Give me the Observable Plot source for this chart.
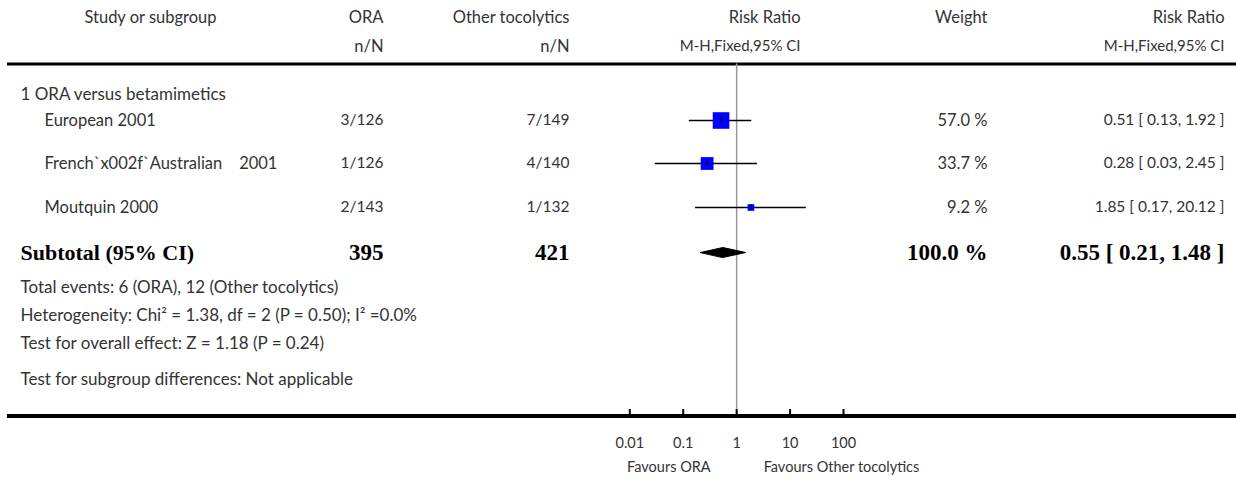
<!DOCTYPE html>
<html><head><meta charset="utf-8">
<script src="https://cdn.jsdelivr.net/npm/d3@7"></script>
<script src="https://cdn.jsdelivr.net/npm/@observablehq/plot@0.6"></script>
<style>body{margin:0;background:#fff}</style>
</head><body><div id="chart"></div>
<script>
// ---- data ----
const studies = ["European 2001", "French`x002f`Australian\u00a0\u00a0\u00a0 2001", "Moutquin 2000"];
const oraEvents = [3, 1, 2];
const oraTotal = [126, 126, 143];
const otherEvents = [7, 4, 1];
const otherTotal = [149, 140, 132];
const riskRatio = [0.51, 0.28, 1.85];
const ciLow = [0.13, 0.03, 0.17];
const ciHigh = [1.92, 2.45, 20.12];
const weights = [57.0, 33.7, 9.2];
const subtotalN = [395, 421];
const subtotalRR = [0.55, 0.21, 1.48];
const subtotalWeight = 100.0;
const groupLabel = "1 ORA versus betamimetics";
const notes = [
  "Total events: 6 (ORA), 12 (Other tocolytics)",
  "Heterogeneity: Chi\u00b2 = 1.38, df = 2 (P = 0.50); I\u00b2 =0.0%",
  "Test for overall effect: Z = 1.18 (P = 0.24)",
  "Test for subgroup differences: Not applicable"
];
const tickValues = [0.01, 0.1, 1, 10, 100];
const tickLabels = ["0.01", "0.1", "1", "10", "100"];
const favours = ["Favours ORA", "Favours Other tocolytics"];

// ---- layout (row slots, column anchors, type sizes) ----
const rowY = {head1: 17, head2: 46, headLine: 63.5, group: 94, studies: [120, 163, 207],
  subtotal: 252, notes: [287, 315, 343, 379], axis: 415.5, tickTop: 409, tickLabel: 443, favours: 467};
const col = {study: 44, group: 20, studyHead: 150, ora: 383, other: 569, rrHead: 800, weight: 987, rrCI: 1224};
const fs = {head: 16.5, headSmall: 15, name: 16.5, note: 17, count: 15.5, weight: 16.5, ci: 15.5, axis: 14.5, bold: 23, boldLabel: 22};

const fmt2 = d3.format(".2f");
const rows = studies.map((s, i) => ({
  study: s,
  ora: `${oraEvents[i]}/${oraTotal[i]}`,
  other: `${otherEvents[i]}/${otherTotal[i]}`,
  rr: riskRatio[i], lo: ciLow[i], hi: ciHigh[i], w: weights[i],
  wText: `${weights[i].toFixed(1)} %`,
  ciText: `${fmt2(riskRatio[i])} [ ${fmt2(ciLow[i])}, ${fmt2(ciHigh[i])} ]`,
  y: rowY.studies[i]
}));
const sub = {rr: subtotalRR[0], lo: subtotalRR[1], hi: subtotalRR[2], y: rowY.subtotal};
const diamond = [
  {x: sub.lo, y: sub.y}, {x: sub.rr, y: sub.y - 5}, {x: sub.hi, y: sub.y}, {x: sub.rr, y: sub.y + 5}
];
const ticks = tickValues.map((v, i) => ({v, label: tickLabels[i]}));

const txt = "#333";
const base = {fill: txt};
const bold = {fontFamily: "'Liberation Serif', 'Times New Roman', serif", fontWeight: "bold", fontSize: fs.bold, fill: "#000", frameAnchor: "left", textAnchor: "end", y: () => sub.y, text: d => String(d)};
const hdr = (labels, dx, sizes) => Plot.text(labels, {...base, text: d => d, y: (d, i) => i ? rowY.head2 : rowY.head1,
  frameAnchor: "left", dx, textAnchor: "end", fontSize: (d, i) => sizes[i]});

const chart = Plot.plot({
  width: 1236, height: 486,
  marginTop: 0, marginRight: 0, marginBottom: 0, marginLeft: 0,
  style: {fontFamily: "Lato, 'Open Sans', sans-serif", background: "#fff"},
  x: {type: "log", domain: [0.01, 100], range: [629.3, 843], axis: null},
  y: {type: "linear", domain: [0, 486], range: [0, 486], axis: null},
  r: {type: "sqrt", domain: [0, 100], range: [0, 12.4]},
  marks: [
    // header
    Plot.text(["Study or subgroup"], {...base, text: d => d, y: () => rowY.head1, frameAnchor: "left", dx: col.studyHead, textAnchor: "middle", fontSize: fs.head}),
    hdr(["ORA", "n/N"], col.ora, [fs.head, fs.head]),
    hdr(["Other tocolytics", "n/N"], col.other, [fs.head, fs.head]),
    hdr(["Risk Ratio", "M-H,Fixed,95% CI"], col.rrHead, [fs.head, fs.headSmall]),
    hdr(["Weight"], col.weight, [fs.head]),
    hdr(["Risk Ratio", "M-H,Fixed,95% CI"], col.rrCI, [fs.head, fs.headSmall]),
    Plot.ruleY([rowY.headLine], {y: d => d, stroke: "#000", strokeWidth: 3, insetLeft: 7}),
    // reference line at RR = 1
    Plot.ruleX([1], {x: d => d, y1: rowY.headLine, y2: rowY.axis, stroke: "#999", strokeWidth: 1.5}),
    // group label
    Plot.text([groupLabel], {...base, text: d => d, y: () => rowY.group, frameAnchor: "left", dx: col.group, textAnchor: "start", fontSize: fs.note}),
    // study rows
    Plot.text(rows, {...base, text: "study", y: "y", frameAnchor: "left", dx: col.study, textAnchor: "start", fontSize: fs.name}),
    Plot.text(rows, {...base, text: "ora", y: "y", frameAnchor: "left", dx: col.ora, textAnchor: "end", fontSize: fs.count}),
    Plot.text(rows, {...base, text: "other", y: "y", frameAnchor: "left", dx: col.other, textAnchor: "end", fontSize: fs.count}),
    Plot.text(rows, {...base, text: "wText", y: "y", frameAnchor: "left", dx: col.weight, textAnchor: "end", fontSize: fs.weight}),
    Plot.text(rows, {...base, text: "ciText", y: "y", frameAnchor: "left", dx: col.rrCI, textAnchor: "end", fontSize: fs.ci}),
    Plot.ruleY(rows, {x1: "lo", x2: "hi", y: "y", stroke: "#000", strokeWidth: 1.5}),
    Plot.dot(rows, {x: "rr", y: "y", r: "w", symbol: "square", fill: "#0000ff", stroke: null}),
    Plot.ruleX(rows, {x: "rr", y1: d => d.y - 3, y2: d => d.y + 3, stroke: "#000", strokeWidth: 1}),
    // subtotal
    Plot.text(["Subtotal (95% CI)"], {...bold, dx: col.group, textAnchor: "start", fontSize: fs.boldLabel}),
    Plot.text([subtotalN[0]], {...bold, dx: col.ora}),
    Plot.text([subtotalN[1]], {...bold, dx: col.other}),
    Plot.text([`${subtotalWeight.toFixed(1)} %`], {...bold, dx: col.weight}),
    Plot.text([`${fmt2(sub.rr)} [ ${fmt2(sub.lo)}, ${fmt2(sub.hi)} ]`], {...bold, dx: col.rrCI}),
    Plot.line(diamond, {x: "x", y: "y", curve: "linear-closed", fill: "#000", stroke: "#000", strokeWidth: 1}),
    // notes
    Plot.text(notes, {...base, text: d => d, y: (d, i) => rowY.notes[i], frameAnchor: "left", dx: col.group, textAnchor: "start", fontSize: fs.note}),
    // axis
    Plot.ruleY([rowY.axis], {y: d => d, stroke: "#000", strokeWidth: 4, insetLeft: 7}),
    Plot.ruleX(ticks, {x: "v", y1: rowY.tickTop, y2: rowY.axis, stroke: "#000", strokeWidth: 2}),
    Plot.text(ticks, {...base, fontSize: fs.axis, x: "v", y: () => rowY.tickLabel, text: "label"}),
    Plot.text([favours[0]], {...base, fontSize: fs.axis, x: () => 1, y: () => rowY.favours, text: d => d, textAnchor: "end", dx: -26}),
    Plot.text([favours[1]], {...base, fontSize: fs.axis, x: () => 1, y: () => rowY.favours, text: d => d, textAnchor: "start", dx: 27})
  ]
});
document.getElementById("chart").append(chart);
</script></body></html>
